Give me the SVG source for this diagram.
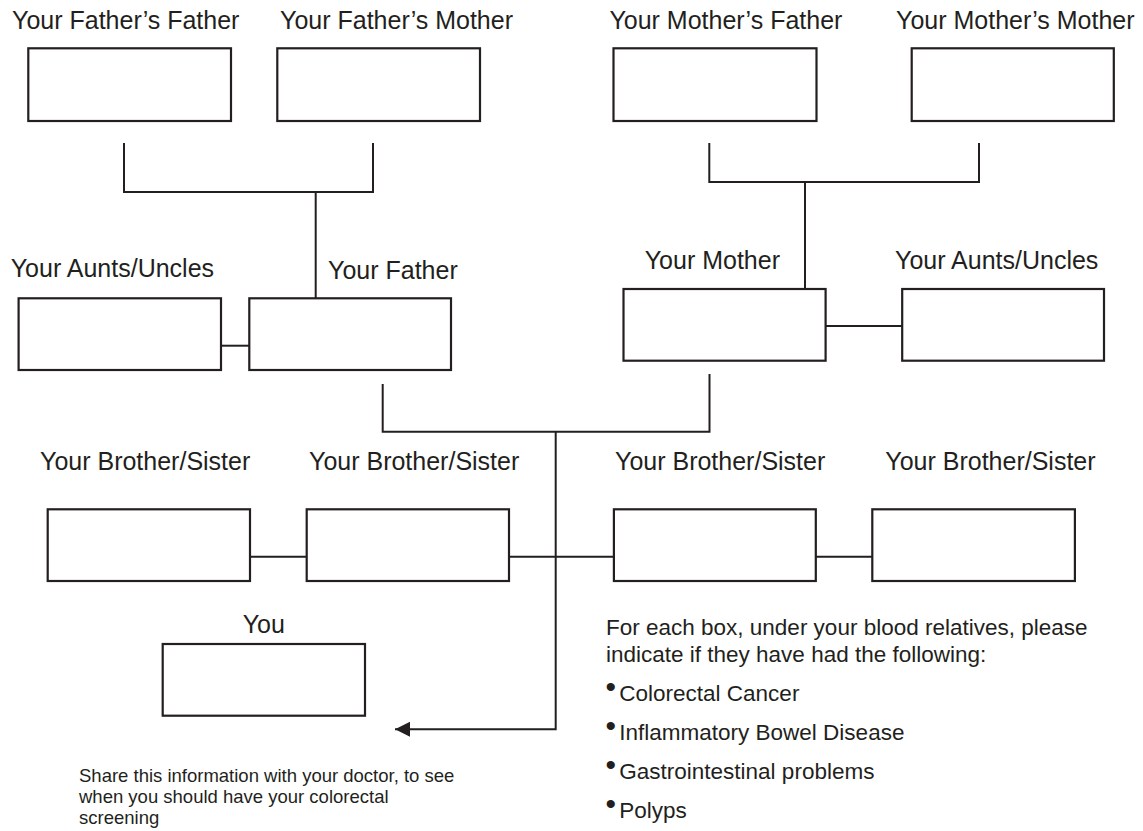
<svg xmlns="http://www.w3.org/2000/svg" width="1143" height="831" viewBox="0 0 1143 831">
<defs>
<style>
.box{fill:#fff;stroke:#231f20;stroke-width:2.2}
.ln{fill:none;stroke:#231f20;stroke-width:2}
.lbl{font-family:"Liberation Sans",Arial,sans-serif;font-size:25px;fill:#231f20}
.txt{font-family:"Liberation Sans",Arial,sans-serif;font-size:22.5px;fill:#231f20}
.bul{font-family:"Liberation Sans",Arial,sans-serif;font-size:30px;fill:#231f20}
.small{font-family:"Liberation Sans",Arial,sans-serif;font-size:18.5px;fill:#231f20}
</style>
<marker id="arr" markerUnits="userSpaceOnUse" markerWidth="16" markerHeight="16" refX="15" refY="7.5" orient="auto">
<path d="M0,0 L15,7.5 L0,15 Z" fill="#231f20"/>
</marker>
</defs>
<rect width="1143" height="831" fill="#fff"/>

<g id="connectors">
<path class="ln" d="M124,143 V192 H373 V143 M315.7,192 V298.3"/>
<path class="ln" d="M709.3,143 V182 H979 V143 M805,182 V289"/>
<path class="ln" d="M221,345.7 H249.3"/>
<path class="ln" d="M825.6,326 H902.2"/>
<path class="ln" d="M382.7,384 V431.7 H709.5 V374"/>
<path class="ln" d="M555.7,431.7 V729.3 H395" marker-end="url(#arr)"/>
<path class="ln" d="M250,556.7 H306.7 M509,556.7 H613.9 M815.8,556.7 H872.3"/>
</g>

<g id="father-father"><text class="lbl" x="12" y="28.7">Your Father’s Father</text><rect class="box" x="28.3" y="48.3" width="202.7" height="72.7"/></g>
<g id="father-mother"><text class="lbl" x="280" y="28.7">Your Father’s Mother</text><rect class="box" x="277.3" y="48.3" width="202.7" height="72.7"/></g>
<g id="mother-father"><text class="lbl" x="609.4" y="29.3">Your Mother’s Father</text><rect class="box" x="613.5" y="48.3" width="203" height="72.7"/></g>
<g id="mother-mother"><text class="lbl" x="896" y="29.3">Your Mother’s Mother</text><rect class="box" x="911.7" y="48.3" width="202.1" height="72.7"/></g>

<g id="aunts-left"><text class="lbl" x="10.7" y="277.3">Your Aunts/Uncles</text><rect class="box" x="18.6" y="298.3" width="202.4" height="71.7"/></g>
<g id="father"><text class="lbl" x="328" y="279">Your Father</text><rect class="box" x="249.3" y="298.3" width="201.7" height="71.7"/></g>
<g id="mother"><text class="lbl" x="644.7" y="269.3">Your Mother</text><rect class="box" x="623.5" y="289" width="202.1" height="71.7"/></g>
<g id="aunts-right"><text class="lbl" x="895" y="269.3">Your Aunts/Uncles</text><rect class="box" x="902.2" y="289" width="201.8" height="71.7"/></g>

<g id="sibling-1"><text class="lbl" x="40" y="470">Your Brother/Sister</text><rect class="box" x="47.7" y="509.3" width="202.3" height="71.7"/></g>
<g id="sibling-2"><text class="lbl" x="309" y="470">Your Brother/Sister</text><rect class="box" x="306.7" y="509.3" width="202.3" height="71.7"/></g>
<g id="sibling-3"><text class="lbl" x="615" y="470">Your Brother/Sister</text><rect class="box" x="613.9" y="509.3" width="201.9" height="71.7"/></g>
<g id="sibling-4"><text class="lbl" x="885.3" y="470">Your Brother/Sister</text><rect class="box" x="872.3" y="509.3" width="202.6" height="71.7"/></g>

<g id="you"><text class="lbl" x="242.7" y="633.3">You</text><rect class="box" x="162.7" y="644" width="202.3" height="71.7"/></g>

<g id="note">
<text class="small" x="79" y="781.7">Share this information with your doctor, to see</text>
<text class="small" x="79" y="802.7">when you should have your colorectal</text>
<text class="small" x="79" y="823.5">screening</text>
</g>

<g id="instructions">
<text class="txt" x="606" y="635">For each box, under your blood relatives, please</text>
<text class="txt" x="606" y="661.7">indicate if they have had the following:</text>
<text class="bul" x="605.5" y="696.7">•</text><text class="txt" x="619.3" y="700.7">Colorectal Cancer</text>
<text class="bul" x="605.5" y="736">•</text><text class="txt" x="619.3" y="740">Inflammatory Bowel Disease</text>
<text class="bul" x="605.5" y="775.3">•</text><text class="txt" x="619.3" y="779.3">Gastrointestinal problems</text>
<text class="bul" x="605.5" y="814.3">•</text><text class="txt" x="619.3" y="818.3">Polyps</text>
</g>
</svg>
